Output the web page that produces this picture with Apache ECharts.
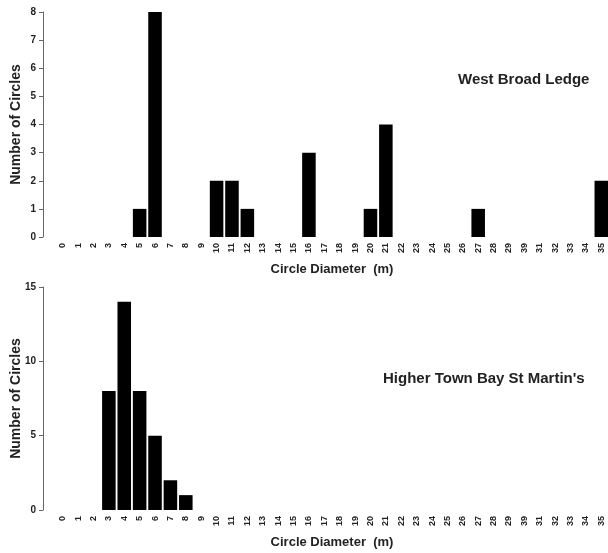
<!DOCTYPE html>
<html>
<head>
<meta charset="utf-8">
<script src="https://cdn.jsdelivr.net/npm/echarts@6/dist/echarts.min.js"></script>
<style>html,body{margin:0;padding:0;background:#fff;}#c{width:608px;height:553px;}</style>
</head>
<body>
<div id="c"></div>
<script>
const categories = ['0','1','2','3','4','5','6','7','8','9','10','11','12','13','14','15','16','17','18','19','20','21','22','23','24','25','26','27','28','29','39','31','32','33','34','35'];
const westBroadLedge = [0,0,0,0,0,1,8,0,0,0,2,2,1,0,0,0,3,0,0,0,1,4,0,0,0,0,0,1,0,0,0,0,0,0,0,2];
const higherTownBay = [0,0,0,8,14,8,5,2,1,0,0,0,0,0,0,0,0,0,0,0,0,0,0,0,0,0,0,0,0,0,0,0,0,0,0,0];
const titles = ['West Broad Ledge', "Higher Town Bay St Martin's"];
const xName = 'Circle Diameter  (m)';
const yName = 'Number of Circles';

const font = 'Liberation Sans, Arial, sans-serif';
const chart = echarts.init(document.getElementById('c'));

function xAxis(gi) {
  return {
    type: 'category', gridIndex: gi, data: categories,
    axisLine: {show: false}, axisTick: {show: false},
    axisLabel: {rotate: 90, fontSize: 9, fontWeight: 'bold', color: '#222', fontFamily: font, margin: 6, interval: 0},
    name: xName, nameLocation: 'middle', nameGap: 26, nameMoveOverlap: false,
    nameTextStyle: {fontSize: 13, fontWeight: 'bold', color: '#222', fontFamily: font}
  };
}
function yAxis(gi, max, interval) {
  return {
    type: 'value', gridIndex: gi, min: 0, max: max, interval: interval, offset: 12,
    axisLine: {show: true, lineStyle: {color: '#666', width: 1}},
    axisTick: {show: true, length: 4, lineStyle: {color: '#666'}},
    splitLine: {show: false},
    axisLabel: {fontSize: 10, fontWeight: 'bold', color: '#222', fontFamily: font, margin: 7},
    name: yName, nameLocation: 'middle', nameGap: 20, nameRotate: 90, nameMoveOverlap: false,
    nameTextStyle: {fontSize: 14, fontWeight: 'bold', color: '#222', fontFamily: font}
  };
}

chart.setOption({
  animation: false,
  backgroundColor: '#fff',
  title: [
    {text: titles[0], left: 453, top: 67, textStyle: {fontSize: 15, fontWeight: 'bold', color: '#222', fontFamily: font}},
    {text: titles[1], left: 378, top: 366, textStyle: {fontSize: 15, fontWeight: 'bold', color: '#222', fontFamily: font}}
  ],
  grid: [
    {left: 55, top: 12, width: 554, height: 225, containLabel: false, outerBoundsMode: 'none'},
    {left: 55, top: 287, width: 554, height: 223, containLabel: false, outerBoundsMode: 'none'}
  ],
  xAxis: [xAxis(0), xAxis(1)],
  yAxis: [yAxis(0, 8, 1), yAxis(1, 15, 5)],
  series: [
    {type: 'bar', xAxisIndex: 0, yAxisIndex: 0, data: westBroadLedge, barCategoryGap: '12%', itemStyle: {color: '#000'}},
    {type: 'bar', xAxisIndex: 1, yAxisIndex: 1, data: higherTownBay, barCategoryGap: '12%', itemStyle: {color: '#000'}}
  ]
});
</script>
</body>
</html>
